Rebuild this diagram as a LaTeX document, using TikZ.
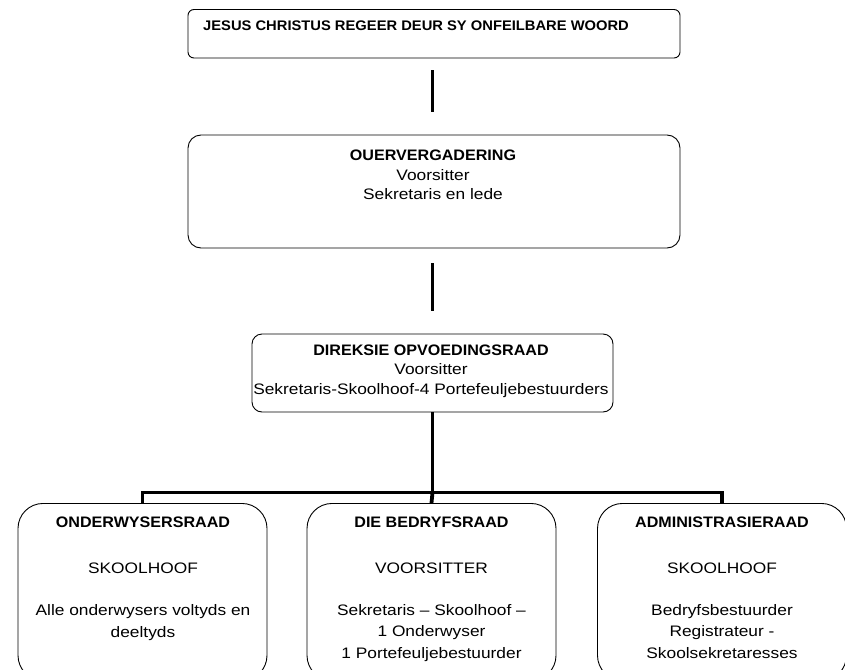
\documentclass[tikz,border=0pt]{standalone}
\usepackage{fontspec}
\setmainfont{Liberation Sans}[FakeStretch=1.14,BoldFeatures={FakeStretch=1.06}]
\begin{document}
\begin{tikzpicture}[x=1pt,y=1pt]
\tikzstyle{every node}+=[inner sep=0pt]
\tikzstyle{blok}=[draw=black,line width=0.9pt,rectangle]
\tikzstyle{raad}=[blok,rounded corners=25pt,minimum width=249pt,minimum height=177pt,anchor=north]
\tikzstyle{teks}=[align=center,anchor=base,font=\fontsize{15.2}{19.5}\selectfont]
\tikzstyle{lyn}=[line width=3.8pt,line join=miter]
\useasboundingbox (0,0) rectangle (845,-669);
\clip (0,0) rectangle (845,-669);
\node [blok,rounded corners=6pt,minimum width=492pt,minimum height=48.5pt] (jesus) at (434,-33.75) {};
\node [anchor=base west,font=\fontsize{13.9}{16}\selectfont\bfseries] (jesusT) at (203,-30.7) {JESUS CHRISTUS REGEER DEUR SY ONFEILBARE WOORD};
\node [blok,rounded corners=13pt,minimum width=492pt,minimum height=113pt] (ouer) at (434,-191.5) {};
\node [teks] (ouerT) at (433,-199.5) {\textbf{OUERVERGADERING}\\ Voorsitter\\ Sekretaris en lede};
\node [blok,rounded corners=10pt,minimum width=361pt,minimum height=78pt] (direksie) at (432.5,-373) {};
\node [teks] (direksieT) at (431,-394) {\textbf{DIREKSIE OPVOEDINGSRAAD}\\ Voorsitter\\ Sekretaris-Skoolhoof-4 Portefeuljebestuurders};
\node [raad] (onder) at (142.5,-503) {};
\node [teks] (onderT) at (143,-637) {\textbf{ONDERWYSERSRAAD}\\[26.5pt] SKOOLHOOF\\[22.5pt] Alle onderwysers voltyds en\\[2pt] deeltyds};
\node [raad] (bedryf) at (431.5,-503) {};
\node [teks] (bedryfT) at (431.5,-658) {\textbf{DIE BEDRYFSRAAD}\\[26.5pt] VOORSITTER\\[22.5pt] Sekretaris -- Skoolhoof --\\[2pt] 1 Onderwyser\\[2pt] 1 Portefeuljebestuurder};
\node [raad] (admin) at (722,-503) {};
\node [teks] (adminT) at (722,-658) {\textbf{ADMINISTRASIERAAD}\\[26.5pt] SKOOLHOOF\\[22.5pt] Bedryfsbestuurder\\[2pt] Registrateur -\\[2pt] Skoolsekretaresses};
\draw [lyn,shorten <=12pt,shorten >=23pt] (jesus.south -| direksie.north) -- (ouer.north -| direksie.north);
\draw [lyn,shorten <=14.7pt,shorten >=22.3pt] (ouer.south -| direksie.north) -- (direksie.north);
\coordinate (tak) at (direksie.south |- 0,-492.5);
\draw [lyn] (direksie.south) -- (tak);
\draw [lyn] (onder.north) |- (tak) -| (admin.north);
\draw [lyn] (tak) -- (bedryf.north);
\end{tikzpicture}
\end{document}
